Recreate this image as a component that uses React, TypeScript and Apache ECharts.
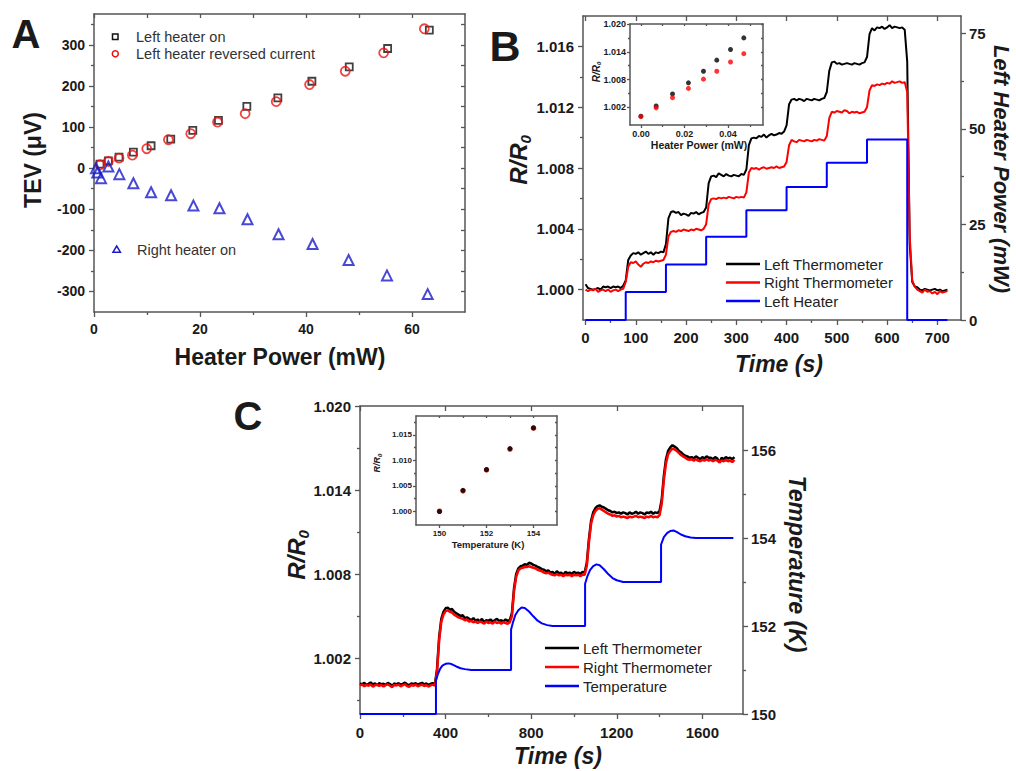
import React, { useEffect, useRef } from 'react';
import * as echarts from 'echarts';

const FONT = "'Liberation Sans', Arial, Helvetica, sans-serif";
const AXC = '#555555';
const INK = '#1a1a1a';

// ---------------- Panel A ----------------
const aLeftOnPower = [1.13, 2.71, 4.72, 7.43, 10.77, 14.48, 18.64, 23.48, 28.84, 34.69, 41.11, 48.16, 55.4, 63.27];
const aLeftOnTEV = [9.8, 17.9, 26.8, 39.0, 54.5, 70.7, 91.9, 116.3, 150.4, 170.7, 211.4, 246.3, 291.1, 335.8];
const aReversedPower = [1.13, 2.71, 4.72, 7.24, 9.95, 14.04, 18.26, 23.3, 28.52, 34.38, 40.67, 47.41, 54.65, 62.33];
const aReversedTEV = [8.1, 16.3, 24.4, 31.7, 47.2, 69.1, 83.7, 112.2, 132.5, 161.8, 203.3, 235.8, 280.5, 339.0];
const aRightOnPower = [0.38, 0.63, 1.32, 2.71, 4.78, 7.43, 10.77, 14.54, 18.76, 23.67, 28.96, 34.82, 41.24, 48.04, 55.28, 62.96];
const aRightOnTEV = [0, -10.6, -24.4, 4.1, -14.6, -36.6, -58.5, -65.9, -91.1, -97.6, -124.4, -161.0, -184.6, -223.6, -261.0, -306.5];
const aXLabels = [0, 20, 40, 60];
const aXMinor = [10, 30, 50];
const aYLabels = [-300, -200, -100, 0, 100, 200, 300];
const aYMinor = [-250, -150, -50, 50, 150, 250, 350];

// ---------------- Panel B ----------------
const bSampleSeconds = 5;
const bLeftThermo = [
  1.00035, 1.0001, 1.00005, 1.0, 1.00005, 1.0001, 1.0, 1.0002, 1.00015, 1.0002, 1.0001, 1.0002, 1.00015, 1.0002, 1.0001, 1.00025,
  1.0006, 1.00195, 1.00225, 1.0024, 1.00235, 1.00245, 1.0023, 1.0024, 1.0025, 1.00235, 1.00245, 1.0023, 1.00245, 1.0024, 1.0025, 1.00245,
  1.003, 1.0047, 1.0051, 1.00515, 1.00505, 1.0051, 1.0049, 1.005, 1.00495, 1.00485, 1.00505, 1.005, 1.0051, 1.00495, 1.00505, 1.0051,
  1.0054, 1.007, 1.00745, 1.0075, 1.0074, 1.00765, 1.00755, 1.00745, 1.0076, 1.0075, 1.00745, 1.00755, 1.0075, 1.00745, 1.0076, 1.00755,
  1.0079, 1.0095, 1.00995, 1.01, 1.00995, 1.0101, 1.01005, 1.0102, 1.01, 1.01015, 1.01025, 1.01015, 1.0102, 1.0103, 1.01025, 1.0104,
  1.0108, 1.0122, 1.0125, 1.01255, 1.01245, 1.01255, 1.0125, 1.0124, 1.01255, 1.0125, 1.01245, 1.01255, 1.0125, 1.01245, 1.01255, 1.0126,
  1.013, 1.0144, 1.01495, 1.015, 1.01485, 1.0149, 1.0148, 1.01485, 1.0149, 1.01485, 1.0148, 1.0149, 1.01485, 1.0148, 1.0149, 1.01495,
  1.0153, 1.0168, 1.0172, 1.01705, 1.01725, 1.0172, 1.0173, 1.01715, 1.01725, 1.0174, 1.0172, 1.0173, 1.01725, 1.0172, 1.01725, 1.0171,
  1.015, 1.003, 1.0005, 1.0002, 1.00015, 1.0, 0.99995, 1.00005, 1.0, 0.99995, 1.0, 1.00005, 0.99995, 1.0, 0.9999, 0.99995,
  1.0,
];
const bRightThermo = [
  1.0, 0.9999, 1.0, 0.99995, 1.00005, 0.99985, 0.99995, 1.0, 0.9999, 1.0, 0.99985, 0.99995, 1.0, 0.9999, 1.0, 1.00005,
  1.0005, 1.0015, 1.0018, 1.00175, 1.00185, 1.00165, 1.0015, 1.0017, 1.0018, 1.00175, 1.00185, 1.0018, 1.0019, 1.00185, 1.0019, 1.00195,
  1.0023, 1.0035, 1.0038, 1.00385, 1.0038, 1.0039, 1.00385, 1.00395, 1.0039, 1.00385, 1.00395, 1.0039, 1.004, 1.00395, 1.0039, 1.004,
  1.0043, 1.0056, 1.00595, 1.006, 1.00595, 1.00605, 1.006, 1.00605, 1.006, 1.0061, 1.00605, 1.006, 1.0061, 1.00605, 1.0061, 1.00605,
  1.0064, 1.0077, 1.008, 1.00795, 1.008, 1.0079, 1.008, 1.00805, 1.00795, 1.008, 1.00805, 1.008, 1.0081, 1.008, 1.00805, 1.0081,
  1.0084, 1.0095, 1.00985, 1.00975, 1.0097, 1.00985, 1.0098, 1.00975, 1.00985, 1.0098, 1.00975, 1.00985, 1.0098, 1.0099, 1.00985, 1.0098,
  1.0101, 1.0113, 1.0117, 1.01165, 1.01175, 1.0117, 1.01165, 1.0118, 1.01175, 1.0116, 1.0117, 1.01165, 1.0117, 1.0116, 1.01165, 1.0117,
  1.012, 1.0131, 1.01345, 1.0134, 1.0135, 1.01345, 1.01355, 1.0135, 1.0136, 1.01355, 1.0137, 1.0136, 1.01365, 1.0137, 1.0136, 1.01365,
  1.013, 1.0035, 1.0006, 1.0002, 1.0, 0.9999, 0.9998, 1.0, 0.99985, 0.9999, 0.99975, 0.99985, 0.9997, 0.9999, 0.9998, 0.99985,
  0.9999,
];
const bHeaterTimes = [0, 80, 160, 240, 320, 400, 480, 560, 640, 720];
const bHeaterPower = [0, 7.3, 14.5, 21.8, 28.7, 34.8, 41.1, 47.2, 0, 0];
const bXLabels = [0, 100, 200, 300, 400, 500, 600, 700];
const bXMinor = [50, 150, 250, 350, 450, 550, 650];
const bYLabels = [1.0, 1.004, 1.008, 1.012, 1.016];
const bYMinor = [1.002, 1.006, 1.01, 1.014];
const bPLabels = [0, 25, 50, 75];
const bPMinor = [12.5, 37.5, 62.5];
// inset B
const biPower = [0, 0.007, 0.0145, 0.0218, 0.0287, 0.0348, 0.0411, 0.0472];
const biLeft = [1.0001, 1.0023, 1.0049, 1.0073, 1.0098, 1.0122, 1.0145, 1.017];
const biRight = [1.0, 1.0019, 1.0041, 1.0061, 1.0081, 1.0098, 1.0118, 1.0136];
const biXLabels = [0, 0.02, 0.04];
const biXMinor = [0.01, 0.03, 0.05];
const biYLabels = [1.002, 1.008, 1.014, 1.02];
const biYMinor = [1.005, 1.011, 1.017];

// ---------------- Panel C ----------------
const cSampleSeconds = 10;
const cLeftThermo = [
  1.00018, 1.00012, 1.00022, 1.00008, 1.00015, 1.00025, 1.0001, 1.00018, 1.00005, 1.0002, 1.00012, 1.00016,
  1.00008, 1.00022, 1.00014, 1.0, 1.00018, 1.00012, 1.0002, 1.0001, 1.00015, 1.00024, 1.00012, 1.00006,
  1.00018, 1.00014, 1.0002, 1.0001, 1.00016, 1.00022, 1.00012, 1.00018, 1.00008, 1.00016, 1.0002, 1.00012,
  1.0012, 1.0035, 1.0048, 1.0053, 1.00555, 1.0056, 1.00545, 1.0055, 1.0053, 1.0052, 1.0051, 1.005, 1.00505, 1.00485, 1.0049, 1.0048, 1.0047, 1.00485,
  1.00465, 1.00475, 1.0046, 1.0048, 1.00455, 1.0047, 1.00465, 1.00475, 1.0046, 1.0047, 1.0048, 1.00465, 1.0047, 1.0046, 1.00475, 1.00465, 1.0047,
  1.0052, 1.007, 1.008, 1.0084, 1.00855, 1.0086, 1.0087, 1.00865, 1.0088, 1.00875, 1.00865, 1.0086, 1.0085, 1.00845, 1.00835, 1.0083, 1.0082, 1.00825,
  1.0081, 1.00815, 1.008, 1.0082, 1.00805, 1.0081, 1.00795, 1.00815, 1.00805, 1.0081, 1.008, 1.00815, 1.00805, 1.0081, 1.008, 1.00815, 1.0081,
  1.0088, 1.0105, 1.0118, 1.0124, 1.0127, 1.01285, 1.0129, 1.0128, 1.01275, 1.01265, 1.01255, 1.0125, 1.0124, 1.01245, 1.01235, 1.0124, 1.0123, 1.0124,
  1.01235, 1.01225, 1.0124, 1.0123, 1.01235, 1.01245, 1.0123, 1.0124, 1.01235, 1.01225, 1.0124, 1.01235, 1.01245, 1.0123, 1.0124, 1.01235, 1.0125,
  1.0133, 1.015, 1.0162, 1.0168, 1.01705, 1.0172, 1.0171, 1.017, 1.0168, 1.0167, 1.01655, 1.01645, 1.0164, 1.0163, 1.01635, 1.01625, 1.0164, 1.0163,
  1.0162, 1.01635, 1.01625, 1.0164, 1.0163, 1.0163, 1.0162, 1.01635, 1.01625, 1.01595, 1.0163, 1.0162, 1.01635, 1.01625, 1.0163, 1.0162, 1.01635,
];
const cRightThermo = [
  1.00005, 1.0001, 0.99998, 1.00008, 1.00002, 1.00012, 0.99995, 1.00006, 1.0001, 1.0, 1.00008, 0.99996,
  1.00006, 1.00012, 1.00002, 0.99992, 1.00008, 1.00004, 1.0001, 0.99998, 1.00006, 1.00012, 1.0, 0.99995,
  1.00008, 1.00002, 1.0001, 0.99998, 1.00005, 1.0001, 1.0, 1.00006, 0.99996, 1.00004, 1.0001, 1.00002,
  1.001, 1.0033, 1.0046, 1.0051, 1.00535, 1.0054, 1.0053, 1.00525, 1.0051, 1.005, 1.0049, 1.00485, 1.0048, 1.0047, 1.00475, 1.0046, 1.00465, 1.00455,
  1.0046, 1.0045, 1.0046, 1.00455, 1.00445, 1.0046, 1.0045, 1.00455, 1.00445, 1.0046, 1.0045, 1.00455, 1.00445, 1.00455, 1.0045, 1.00445, 1.00455,
  1.005, 1.0068, 1.0078, 1.00825, 1.0084, 1.00845, 1.0085, 1.0085, 1.00855, 1.0085, 1.00845, 1.0084, 1.0083, 1.00825, 1.0082, 1.0081, 1.00805, 1.0081,
  1.008, 1.00795, 1.0079, 1.008, 1.0079, 1.00795, 1.00785, 1.00795, 1.0079, 1.00795, 1.00785, 1.00795, 1.0079, 1.00795, 1.00785, 1.00795, 1.00795,
  1.0086, 1.0103, 1.0116, 1.0122, 1.0125, 1.01265, 1.0127, 1.0126, 1.0125, 1.0124, 1.0123, 1.01225, 1.01215, 1.0122, 1.0121, 1.01215, 1.01205, 1.0121,
  1.01205, 1.012, 1.0121, 1.01205, 1.0121, 1.01215, 1.01205, 1.0121, 1.01205, 1.012, 1.0121, 1.01205, 1.01215, 1.01205, 1.0121, 1.01205, 1.0122,
  1.013, 1.0147, 1.0159, 1.01655, 1.0168, 1.01695, 1.0169, 1.0168, 1.01665, 1.0165, 1.0164, 1.0163, 1.0162, 1.01615, 1.0162, 1.0161, 1.0162, 1.0161,
  1.01605, 1.01615, 1.0161, 1.0162, 1.0161, 1.01615, 1.01605, 1.01615, 1.0161, 1.016, 1.0161, 1.01605, 1.01615, 1.01605, 1.0161, 1.016, 1.01615,
];
const cTempTime = [
  0, 355, 355, 365, 375, 385, 400, 415, 430, 450, 470, 490, 520, 706,
  706, 716, 726, 740, 755, 770, 790, 810, 830, 850, 875, 900, 1052,
  1052, 1062, 1075, 1090, 1105, 1120, 1140, 1160, 1180, 1200, 1230, 1407,
  1407, 1420, 1435, 1450, 1465, 1480, 1500, 1520, 1545, 1570, 1745,
];
const cTempK = [
  150, 150, 150.76, 150.92, 151.03, 151.1, 151.14, 151.15, 151.13, 151.08, 151.04, 151.02, 151.0, 151.0,
  151.92, 152.1, 152.25, 152.36, 152.42, 152.41, 152.33, 152.22, 152.12, 152.06, 152.02, 152.0, 152.0,
  152.96, 153.12, 153.27, 153.36, 153.4, 153.38, 153.29, 153.18, 153.09, 153.04, 153.0, 153.0,
  153.85, 154.02, 154.11, 154.16, 154.17, 154.14, 154.08, 154.04, 154.01, 154.0, 154.0,
];
const cXLabels = [0, 400, 800, 1200, 1600];
const cXMinor = [200, 600, 1000, 1400];
const cYLabels = [1.002, 1.008, 1.014, 1.02];
const cYMinor = [0.999, 1.005, 1.011, 1.017];
const cTLabels = [150, 152, 154, 156];
const cTMinor = [151, 153, 155];
// inset C
const ciTemp = [150, 151, 152, 153, 154];
const ciLeft = [0.99995, 1.0041, 1.0082, 1.0123, 1.0164];
const ciRight = [1.0, 1.004, 1.0081, 1.0122, 1.0163];
const ciXLabels = [150, 152, 154];
const ciXMinor = [151, 153];
const ciYLabels = [1.0, 1.005, 1.01, 1.015];
const ciYMinor = [1.0025, 1.0075, 1.0125, 1.0175];

type AxOpt = {
  grid: number; min: number; max: number; pos: string; ticks: number[];
  inside?: boolean; len?: number; labels?: number[]; fmt?: (v: number) => string;
  fs?: number; margin?: number; line?: boolean;
};

const plain = (v: number) => String(v);

function ax(o: AxOpt): any {
  const label: any = o.labels
    ? {
        show: true, customValues: o.labels, fontSize: o.fs ?? 14, fontWeight: 'bold',
        fontFamily: FONT, color: INK, margin: o.margin ?? 8, hideOverlap: false,
        formatter: o.fmt || plain,
      }
    : { show: false };
  return {
    type: 'value', gridIndex: o.grid, min: o.min, max: o.max, position: o.pos,
    axisLine: { show: o.line !== false, onZero: false, lineStyle: { color: AXC, width: 1.5 } },
    axisTick: { show: true, inside: !!o.inside, length: o.len ?? 5, customValues: o.ticks, lineStyle: { color: AXC, width: 1.3 } },
    axisLabel: label,
    splitLine: { show: false },
    minorTick: { show: false },
    minorSplitLine: { show: false },
  };
}

const f3 = (v: number) => v.toFixed(3);
const f2 = (v: number) => v.toFixed(2);
const pairs = (xs: number[], ys: number[]) => xs.map((x, i) => [x, ys[i]]);
const timed = (dt: number, ys: number[]) => ys.map((y, i) => [i * dt, y]);

function txt(x: number, y: number, text: string, o: any = {}): any {
  return {
    type: 'text', x, y, rotation: o.rot || 0, z: 100,
    style: {
      text, fontSize: o.fs || 14, fontWeight: o.fw || 'bold', fontStyle: o.it ? 'italic' : 'normal',
      fontFamily: FONT, fill: o.color || INK, align: o.align || 'center', verticalAlign: 'middle',
      textAlign: o.align || 'center', textVerticalAlign: 'middle', rich: o.rich,
    },
  };
}

function rr(fs: number): any {
  return {
    a: { fontSize: fs, fontWeight: 'bold', fontStyle: 'italic', fontFamily: FONT, fill: INK, color: INK, lineHeight: Math.round(fs * 1.2) },
    b: { fontSize: Math.round(fs * 0.62), fontWeight: 'bold', fontStyle: 'italic', fontFamily: FONT, fill: INK, color: INK, verticalAlign: 'bottom', lineHeight: Math.round(fs * 0.45) },
  };
}

function legendLine(x1: number, x2: number, y: number, color: string): any {
  return { type: 'line', z: 100, shape: { x1, y1: y, x2, y2: y }, style: { stroke: color, lineWidth: 2.5 } };
}

export default function App() {
  const ref = useRef<HTMLDivElement>(null);
  useEffect(() => {
    if (!ref.current) return;
    const chart = echarts.init(ref.current, null, { renderer: 'svg' });

    const xAxes: any[] = [];
    const yAxes: any[] = [];
    // A
    xAxes.push(ax({ grid: 0, min: 0, max: 70, pos: 'bottom', ticks: aXLabels, labels: aXLabels, fs: 14, margin: 10 })); // 0
    xAxes.push(ax({ grid: 0, min: 0, max: 70, pos: 'bottom', ticks: aXMinor, len: 3, line: false })); // 1
    xAxes.push(ax({ grid: 0, min: 0, max: 70, pos: 'top', ticks: [...aXLabels, ...aXMinor], inside: true, len: 4 })); // 2
    yAxes.push(ax({ grid: 0, min: -350, max: 375, pos: 'left', ticks: aYLabels, labels: aYLabels, fs: 14, margin: 9 })); // 0
    yAxes.push(ax({ grid: 0, min: -350, max: 375, pos: 'left', ticks: aYMinor, len: 3, line: false })); // 1
    yAxes.push(ax({ grid: 0, min: -350, max: 375, pos: 'right', ticks: [...aYLabels, ...aYMinor], inside: true, len: 4 })); // 2
    // B main
    xAxes.push(ax({ grid: 1, min: -5, max: 747, pos: 'bottom', ticks: bXLabels, labels: bXLabels, fs: 15, margin: 10 })); // 3
    xAxes.push(ax({ grid: 1, min: -5, max: 747, pos: 'bottom', ticks: bXMinor, len: 3, line: false })); // 4
    xAxes.push(ax({ grid: 1, min: -5, max: 747, pos: 'top', ticks: bXLabels, inside: true, len: 5 })); // 5
    yAxes.push(ax({ grid: 1, min: 0.998, max: 1.018, pos: 'left', ticks: bYLabels, labels: bYLabels, fmt: f3, fs: 15, margin: 9 })); // 3
    yAxes.push(ax({ grid: 1, min: 0.998, max: 1.018, pos: 'left', ticks: bYMinor, len: 3, line: false })); // 4
    yAxes.push(ax({ grid: 1, min: 0, max: 79.5, pos: 'right', ticks: bPLabels, labels: bPLabels, fs: 15, margin: 8 })); // 5
    yAxes.push(ax({ grid: 1, min: 0, max: 79.5, pos: 'right', ticks: bPMinor, len: 3, line: false })); // 6
    // B inset
    xAxes.push(ax({ grid: 2, min: -0.005, max: 0.056, pos: 'bottom', ticks: biXLabels, labels: biXLabels, fmt: f2, fs: 9, margin: 4, len: 3 })); // 6
    xAxes.push(ax({ grid: 2, min: -0.005, max: 0.056, pos: 'bottom', ticks: biXMinor, len: 2, line: false })); // 7
    xAxes.push(ax({ grid: 2, min: -0.005, max: 0.056, pos: 'top', ticks: [...biXLabels, ...biXMinor], inside: true, len: 2 })); // 8
    yAxes.push(ax({ grid: 2, min: 0.9982, max: 1.02, pos: 'left', ticks: biYLabels, labels: biYLabels, fmt: f3, fs: 9, margin: 4, len: 3 })); // 7
    yAxes.push(ax({ grid: 2, min: 0.9982, max: 1.02, pos: 'left', ticks: biYMinor, len: 2, line: false })); // 8
    yAxes.push(ax({ grid: 2, min: 0.9982, max: 1.02, pos: 'right', ticks: [...biYLabels, ...biYMinor], inside: true, len: 2 })); // 9
    // C main
    xAxes.push(ax({ grid: 3, min: 0, max: 1790, pos: 'bottom', ticks: cXLabels, labels: cXLabels, fs: 15, margin: 11 })); // 9
    xAxes.push(ax({ grid: 3, min: 0, max: 1790, pos: 'bottom', ticks: cXMinor, len: 3, line: false })); // 10
    xAxes.push(ax({ grid: 3, min: 0, max: 1790, pos: 'top', ticks: cXLabels, inside: true, len: 5 })); // 11
    yAxes.push(ax({ grid: 3, min: 0.998, max: 1.02, pos: 'left', ticks: cYLabels, labels: cYLabels, fmt: f3, fs: 15, margin: 9 })); // 10
    yAxes.push(ax({ grid: 3, min: 0.998, max: 1.02, pos: 'left', ticks: cYMinor, len: 3, line: false })); // 11
    yAxes.push(ax({ grid: 3, min: 150, max: 157, pos: 'right', ticks: cTLabels, labels: cTLabels, fs: 15, margin: 8 })); // 12
    yAxes.push(ax({ grid: 3, min: 150, max: 157, pos: 'right', ticks: cTMinor, len: 3, line: false })); // 13
    // C inset
    xAxes.push(ax({ grid: 4, min: 149, max: 155, pos: 'bottom', ticks: ciXLabels, labels: ciXLabels, fs: 8, margin: 4, len: 3 })); // 12
    xAxes.push(ax({ grid: 4, min: 149, max: 155, pos: 'bottom', ticks: ciXMinor, len: 2, line: false })); // 13
    xAxes.push(ax({ grid: 4, min: 149, max: 155, pos: 'top', ticks: [...ciXLabels, ...ciXMinor], inside: true, len: 2 })); // 14
    yAxes.push(ax({ grid: 4, min: 0.9973, max: 1.0187, pos: 'left', ticks: ciYLabels, labels: ciYLabels, fmt: f3, fs: 8, margin: 4, len: 3 })); // 14
    yAxes.push(ax({ grid: 4, min: 0.9973, max: 1.0187, pos: 'left', ticks: ciYMinor, len: 2, line: false })); // 15
    yAxes.push(ax({ grid: 4, min: 0.9973, max: 1.0187, pos: 'right', ticks: [...ciYLabels, ...ciYMinor], inside: true, len: 2 })); // 16

    const grids = [
      { left: 94, top: 14, width: 371, height: 298 },
      { left: 583, top: 16, width: 378, height: 304 },
      { left: 630, top: 24, width: 133, height: 101 },
      { left: 360, top: 406, width: 383, height: 308 },
      { left: 416, top: 416, width: 141, height: 109 },
    ].map((g) => ({ ...g, containLabel: false, outerBoundsMode: 'none' }));

    const hollow = (color: string, bw: number) => ({ color: 'rgba(0,0,0,0)', borderColor: color, borderWidth: bw });

    const series: any[] = [
      // A
      { name: 'Left heater on', type: 'scatter', xAxisIndex: 0, yAxisIndex: 0, data: pairs(aLeftOnPower, aLeftOnTEV), symbol: 'rect', symbolSize: 7, itemStyle: hollow('#111111', 1.8), z: 3 },
      { name: 'Left heater reversed current', type: 'scatter', xAxisIndex: 0, yAxisIndex: 0, data: pairs(aReversedPower, aReversedTEV), symbol: 'circle', symbolSize: 9, itemStyle: hollow('#ee1111', 1.8), z: 4 },
      { name: 'Right heater on', type: 'scatter', xAxisIndex: 0, yAxisIndex: 0, data: pairs(aRightOnPower, aRightOnTEV), symbol: 'triangle', symbolSize: 10, itemStyle: hollow('#1a1acc', 2), z: 4 },
      // B
      { name: 'Left Thermometer', type: 'line', xAxisIndex: 3, yAxisIndex: 3, data: timed(bSampleSeconds, bLeftThermo), showSymbol: false, symbol: 'none', lineStyle: { color: '#000000', width: 2 }, z: 3 },
      { name: 'Right Thermometer', type: 'line', xAxisIndex: 3, yAxisIndex: 3, data: timed(bSampleSeconds, bRightThermo), showSymbol: false, symbol: 'none', lineStyle: { color: '#ff0000', width: 2 }, z: 4 },
      { name: 'Left Heater', type: 'line', step: 'end', xAxisIndex: 3, yAxisIndex: 5, data: pairs(bHeaterTimes, bHeaterPower), showSymbol: false, symbol: 'none', lineStyle: { color: '#0000ff', width: 2 }, z: 5 },
      // B inset
      { name: 'inset left B', type: 'scatter', xAxisIndex: 6, yAxisIndex: 7, data: pairs(biPower, biLeft), symbol: 'circle', symbolSize: 5, itemStyle: { color: '#000000' }, z: 6 },
      { name: 'inset right B', type: 'scatter', xAxisIndex: 6, yAxisIndex: 7, data: pairs(biPower, biRight), symbol: 'circle', symbolSize: 5, itemStyle: { color: '#ff0000' }, z: 7 },
      // C
      { name: 'Left Thermometer C', type: 'line', xAxisIndex: 9, yAxisIndex: 10, data: timed(cSampleSeconds, cLeftThermo), showSymbol: false, symbol: 'none', lineStyle: { color: '#000000', width: 2.5 }, z: 3 },
      { name: 'Right Thermometer C', type: 'line', xAxisIndex: 9, yAxisIndex: 10, data: timed(cSampleSeconds, cRightThermo), showSymbol: false, symbol: 'none', lineStyle: { color: '#ff0000', width: 2.5 }, z: 4 },
      { name: 'Temperature', type: 'line', xAxisIndex: 9, yAxisIndex: 12, data: pairs(cTempTime, cTempK), showSymbol: false, symbol: 'none', lineStyle: { color: '#0000ff', width: 2 }, z: 5 },
      // C inset
      { name: 'inset right C', type: 'scatter', xAxisIndex: 12, yAxisIndex: 14, data: pairs(ciTemp, ciRight), symbol: 'circle', symbolSize: 5.5, itemStyle: { color: '#cc0000' }, z: 6 },
      { name: 'inset left C', type: 'scatter', xAxisIndex: 12, yAxisIndex: 14, data: pairs(ciTemp, ciLeft), symbol: 'circle', symbolSize: 5, itemStyle: { color: '#000000' }, z: 7 },
    ];

    const graphic: any[] = [
      // panel letters
      txt(26, 34, 'A', { fs: 40 }),
      txt(505, 46, 'B', { fs: 43 }),
      txt(248, 416, 'C', { fs: 40 }),
      // panel A titles
      txt(33, 160, 'TEV (μV)', { fs: 23, rot: Math.PI / 2 }),
      txt(280, 357, 'Heater Power (mW)', { fs: 23 }),
      // panel A legend
      { type: 'rect', z: 100, shape: { x: 112.5, y: 34, width: 5.5, height: 5.5 }, style: { fill: 'none', stroke: '#111111', lineWidth: 1.5 } },
      { type: 'circle', z: 100, shape: { cx: 115.3, cy: 53.7, r: 3 }, style: { fill: 'none', stroke: '#ee1111', lineWidth: 1.5 } },
      { type: 'polygon', z: 100, shape: { points: [[113, 252.2], [120.4, 252.2], [116.7, 246]] }, style: { fill: 'none', stroke: '#1a1acc', lineWidth: 1.5 } },
      txt(136, 36.7, 'Left heater on', { fs: 14.5, fw: 'normal', color: '#333333', align: 'left' }),
      txt(136, 53.7, 'Left heater reversed current', { fs: 14.5, fw: 'normal', color: '#333333', align: 'left' }),
      txt(137, 250, 'Right heater on', { fs: 14.5, fw: 'normal', color: '#333333', align: 'left' }),
      // panel B titles
      txt(518, 160, '{a|R/R}{b|0}', { rot: Math.PI / 2, rich: rr(24) }),
      txt(779, 364, 'Time (s)', { fs: 23, it: true }),
      txt(1001, 169, 'Left Heater Power (mW)', { fs: 22, it: true, rot: -Math.PI / 2 }),
      // panel B legend
      legendLine(726, 760, 264, '#000000'),
      legendLine(726, 760, 282.5, '#ff0000'),
      legendLine(726, 760, 301, '#0000ff'),
      txt(764, 264, 'Left Thermometer', { fs: 15, fw: 'normal', color: '#222222', align: 'left' }),
      txt(764, 282.5, 'Right Thermometer', { fs: 15, fw: 'normal', color: '#222222', align: 'left' }),
      txt(764, 301, 'Left Heater', { fs: 15, fw: 'normal', color: '#222222', align: 'left' }),
      // panel B inset titles
      txt(596, 72, '{a|R/R}{b|0}', { rot: Math.PI / 2, rich: rr(10) }),
      txt(699, 145, 'Heater Power (mW)', { fs: 10.5 }),
      // panel C titles
      txt(296, 555, '{a|R/R}{b|0}', { rot: Math.PI / 2, rich: rr(24) }),
      txt(558, 756, 'Time (s)', { fs: 23, it: true }),
      txt(797, 564, 'Temperature (K)', { fs: 23, it: true, rot: -Math.PI / 2 }),
      // panel C legend
      legendLine(545, 579, 648, '#000000'),
      legendLine(545, 579, 667, '#ff0000'),
      legendLine(545, 579, 686, '#0000ff'),
      txt(583, 648, 'Left Thermometer', { fs: 15, fw: 'normal', color: '#222222', align: 'left' }),
      txt(583, 667, 'Right Thermometer', { fs: 15, fw: 'normal', color: '#222222', align: 'left' }),
      txt(583, 686, 'Temperature', { fs: 15, fw: 'normal', color: '#222222', align: 'left' }),
      // panel C inset titles
      txt(377, 463, '{a|R/R}{b|0}', { rot: Math.PI / 2, rich: rr(9) }),
      txt(488, 544, 'Temperature (K)', { fs: 9.5 }),
    ];

    chart.setOption({
      animation: false,
      backgroundColor: '#ffffff',
      grid: grids,
      xAxis: xAxes,
      yAxis: yAxes,
      series,
      graphic,
    });
    return () => chart.dispose();
  }, []);
  return <div ref={ref} style={{ position: 'fixed', left: 0, top: 0, width: 1016, height: 771, background: '#fff' }} />;
}
